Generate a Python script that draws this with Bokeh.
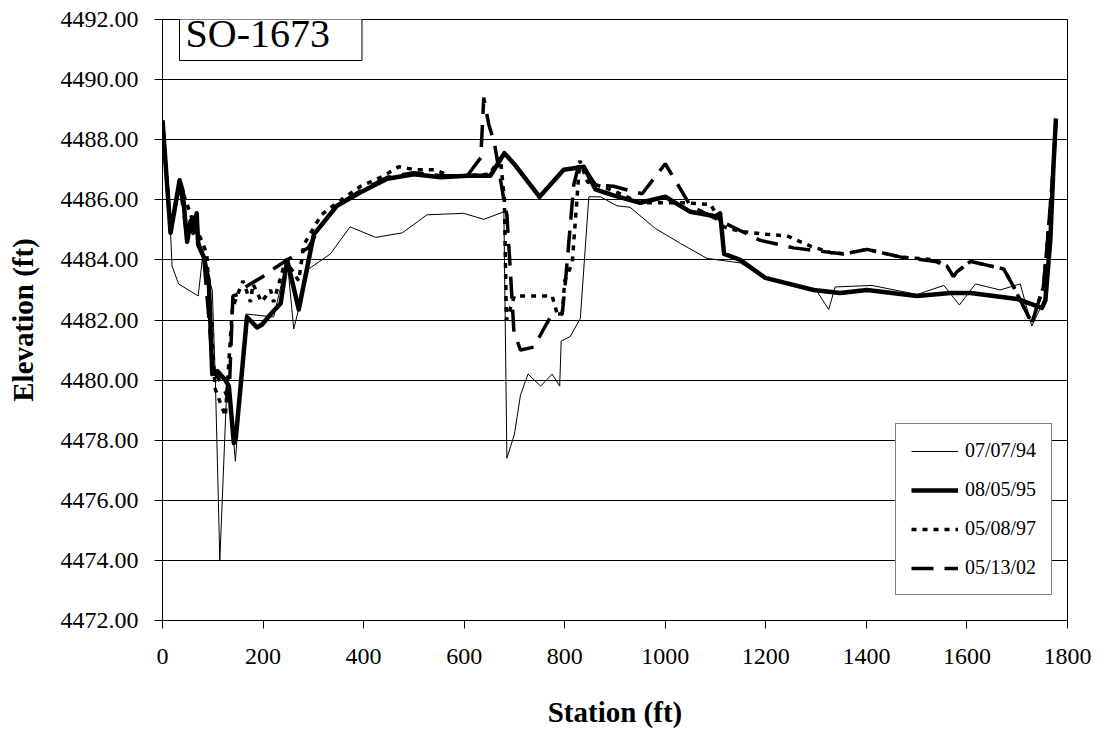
from bokeh.plotting import figure
from bokeh.models import Legend, LegendItem, Label, FixedTicker, PrintfTickFormatter, Range1d
from bokeh.embed import file_html
from bokeh.resources import INLINE

# ---- data ----
sta_94 = [0, 16, 19, 32, 71, 79, 99, 105, 114, 128, 132, 145, 166, 221, 248, 261, 291, 334, 373, 424,
          477, 526, 599, 639, 679, 685, 700, 712, 727, 752, 775, 790, 793, 811, 831, 848, 871, 904, 930, 980,
          1030, 1083, 1149, 1199, 1302, 1325, 1338, 1411, 1501, 1554, 1585, 1617, 1666, 1706, 1729, 1749,
          1756, 1766, 1772, 1777]
elev_94 = [4488.6, 4484.9, 4483.8, 4483.2, 4482.8, 4484.0, 4483.0, 4480.1, 4474.0, 4479.8, 4479.8, 4477.3,
           4482.2, 4482.1, 4484.0, 4481.7, 4483.7, 4484.2, 4485.1, 4484.75, 4484.9, 4485.5, 4485.55, 4485.35,
           4485.6, 4477.4, 4478.2, 4479.5, 4480.2, 4479.8, 4480.2, 4479.8, 4481.3, 4481.45, 4482.05, 4486.1,
           4486.1, 4485.8, 4485.75, 4485.05, 4484.55, 4484.05, 4483.9, 4483.4, 4482.95, 4482.35, 4483.1,
           4483.15, 4482.85, 4483.15, 4482.5, 4483.2, 4483.0, 4483.2, 4481.8, 4482.5, 4482.7, 4484.7, 4487.1,
           4488.7]

sta_95 = [0, 16, 34, 40, 49, 56, 61, 68, 71, 82, 92, 99, 109, 125, 132, 142, 146, 168, 188, 198, 218, 235,
          248, 271, 301, 347, 394, 447, 500, 553, 606, 652, 680, 699, 750, 798, 838, 861, 897, 950, 1000,
          1050, 1100, 1109, 1117, 1149, 1199, 1295, 1348, 1401, 1501, 1567, 1607, 1700, 1749, 1756, 1766,
          1772, 1777]
elev_95 = [4488.65, 4484.9, 4486.65, 4486.3, 4484.6, 4485.3, 4484.9, 4485.55, 4484.5, 4484.1, 4483.3,
           4480.2, 4480.3, 4480.0, 4479.8, 4477.9, 4478.1, 4482.1, 4481.75, 4481.85, 4482.25, 4482.55, 4484.0,
           4482.35, 4484.85, 4485.8, 4486.25, 4486.7, 4486.85, 4486.75, 4486.8, 4486.8, 4487.55, 4487.2,
           4486.1, 4487.0, 4487.1, 4486.35, 4486.15, 4485.9, 4486.1, 4485.6, 4485.45, 4485.55, 4484.2, 4484.0,
           4483.4, 4483.0, 4482.9, 4483.0, 4482.8, 4482.9, 4482.9, 4482.7, 4482.4, 4482.65, 4484.7, 4487.1,
           4488.7]

sta_97 = [0, 16, 34, 46, 60, 79, 88, 100, 105, 125, 139, 160, 175, 180, 197, 215, 221, 245, 271, 281, 316,
          347, 394, 434, 470, 503, 540, 573, 606, 650, 672, 680, 684, 700, 775, 785, 795, 800, 815, 822, 830,
          845, 897, 950, 1030, 1090, 1116, 1149, 1202, 1242, 1290, 1328, 1355, 1401, 1467, 1537, 1560, 1573,
          1580, 1607, 1673, 1693, 1729, 1752, 1759, 1772, 1777]
elev_97 = [4488.6, 4485.0, 4486.5, 4486.0, 4485.3, 4484.6, 4484.2, 4481.0, 4479.7, 4478.8, 4482.4, 4483.3,
           4482.6, 4483.2, 4482.6, 4483.0, 4482.6, 4484.0, 4483.3, 4484.5, 4485.5, 4485.9, 4486.45, 4486.75,
           4487.1, 4487.0, 4487.0, 4486.8, 4486.8, 4486.85, 4487.4, 4486.0, 4482.0, 4482.8, 4482.8, 4482.2,
           4482.2, 4483.3, 4483.9, 4485.5, 4487.3, 4486.6, 4486.3, 4485.9, 4485.9, 4485.85, 4485.1, 4484.95,
           4484.85, 4484.8, 4484.45, 4484.25, 4484.2, 4484.35, 4484.1, 4484.0, 4483.8, 4483.45, 4483.6,
           4483.95, 4483.7, 4483.1, 4481.9, 4483.1, 4484.4, 4487.1, 4488.7]

sta_02 = [0, 16, 34, 49, 56, 68, 71, 82, 95, 100, 110, 125, 132, 140, 150, 165, 200, 225, 248, 290, 310,
          345, 394, 447, 500, 553, 606, 633, 639, 649, 660, 679, 685, 692, 699, 712, 739, 758, 775, 795, 800,
          818, 830, 861, 897, 954, 1000, 1050, 1109, 1189, 1255, 1328, 1355, 1401, 1467, 1537, 1560, 1573,
          1580, 1607, 1673, 1693, 1729, 1752, 1759, 1772, 1777]
elev_02 = [4488.6, 4484.9, 4486.6, 4484.7, 4485.3, 4485.5, 4484.6, 4484.1, 4481.5, 4480.3, 4480.1, 4479.6,
           4479.3, 4482.8, 4482.85, 4483.1, 4483.45, 4483.75, 4484.0, 4484.4, 4485.0, 4485.8, 4486.3, 4486.75,
           4486.9, 4486.8, 4486.8, 4487.4, 4489.4, 4488.5, 4487.9, 4486.0, 4485.5, 4483.6, 4481.6, 4481.0,
           4481.1, 4481.7, 4482.2, 4482.2, 4483.0, 4486.5, 4487.3, 4486.5, 4486.45, 4486.2, 4487.2, 4485.8,
           4485.3, 4484.65, 4484.4, 4484.25, 4484.2, 4484.35, 4484.1, 4483.95, 4483.8, 4483.45, 4483.6,
           4483.95, 4483.7, 4483.1, 4481.9, 4483.1, 4484.4, 4487.1, 4488.7]

series_labels = ["07/07/94", "08/05/95", "05/08/97", "05/13/02"]
x_ticks = [0, 200, 400, 600, 800, 1000, 1200, 1400, 1600, 1800]
y_ticks = [4472, 4474, 4476, 4478, 4480, 4482, 4484, 4486, 4488, 4490, 4492]
chart_title = "SO-1673"
x_title = "Station (ft)"
y_title = "Elevation (ft)"

FONT = "Liberation Serif"

p = figure(width=1107, height=730, output_backend="svg", toolbar_location=None,
           x_range=Range1d(0, 1800), y_range=Range1d(4472, 4492),
           min_border_left=162, min_border_right=40, min_border_top=19, min_border_bottom=108)

p.background_fill_color = "white"
p.border_fill_color = "white"
p.outline_line_color = "black"
p.outline_line_width = 1

p.xgrid.grid_line_color = None
p.ygrid.grid_line_color = "black"
p.ygrid.grid_line_width = 1
p.ygrid.ticker = FixedTicker(ticks=y_ticks)

p.xaxis.ticker = FixedTicker(ticks=x_ticks)
p.yaxis.ticker = FixedTicker(ticks=y_ticks)
p.yaxis.formatter = PrintfTickFormatter(format="%.2f")

for ax in (p.xaxis[0], p.yaxis[0]):
    ax.axis_line_color = "black"
    ax.major_tick_line_color = "black"
    ax.major_tick_in = 0
    ax.major_tick_out = 8
    ax.minor_tick_line_color = None
    ax.major_label_text_font = FONT
    ax.major_label_text_font_size = "24px"
    ax.major_label_text_color = "black"
    ax.axis_label_text_font = FONT
    ax.axis_label_text_font_size = "29px"
    ax.axis_label_text_font_style = "bold"
    ax.axis_label_text_color = "black"

p.xaxis.axis_label = x_title
p.yaxis.axis_label = y_title
p.yaxis.major_label_standoff = 16
p.yaxis.axis_label_standoff = 19
p.xaxis.major_label_standoff = 20
p.xaxis.axis_label_standoff = 29

r94 = p.line(sta_94, elev_94, line_color="black", line_width=1, line_join="round")
r95 = p.line(sta_95, elev_95, line_color="black", line_width=4.5, line_join="round")
r97 = p.line(sta_97, elev_97, line_color="black", line_width=3.5, line_dash="5 6")
r02 = p.line(sta_02, elev_02, line_color="black", line_width=3.5, line_dash="22 11")

legend = Legend(items=[LegendItem(label=lab, renderers=[r]) for lab, r in
                       zip(series_labels, [r94, r95, r97, r02])],
                location=(733, 25))
legend.border_line_color = "black"
legend.border_line_width = 1
legend.background_fill_color = "white"
legend.background_fill_alpha = 1
legend.label_text_font = FONT
legend.label_text_font_size = "20px"
legend.label_text_color = "black"
legend.glyph_width = 47
legend.glyph_height = 20
legend.label_height = 20
legend.spacing = 16
legend.padding = 15
legend.label_standoff = 7
legend.margin = 0
p.add_layout(legend)

title_lbl = Label(x=17, y=560, x_units="screen", y_units="screen", text=chart_title,
                  text_font=FONT, text_font_size="40px", text_color="black",
                  border_line_color="black", border_line_width=1,
                  background_fill_color="white",
                  padding=dict(left=6, right=32, top=11, bottom=5))
p.add_layout(title_lbl)

open("out.html", "w").write(file_html(p, INLINE))
